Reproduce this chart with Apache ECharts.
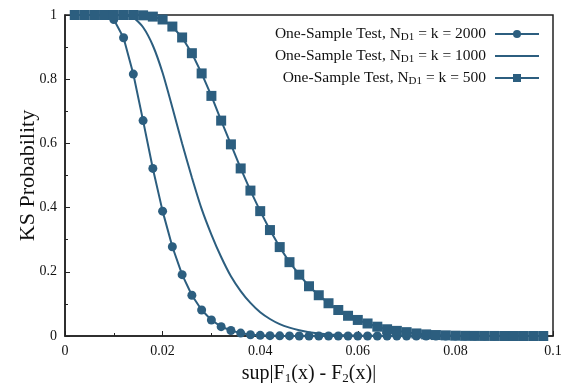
<!DOCTYPE html>
<html>
<head>
<meta charset="utf-8">
<script src="https://cdn.jsdelivr.net/npm/echarts@6/dist/echarts.min.js"></script>
<style>
  html, body { margin: 0; padding: 0; background: #fff; }
  #chart { width: 567px; height: 383px; }
</style>
</head>
<body>
<div id="chart"></div>
<script>
// x positions: sup|F1 - F2| sampled every 0.002
var dValues = [
  0.002, 0.004, 0.006, 0.008, 0.010, 0.012, 0.014, 0.016, 0.018, 0.020,
  0.022, 0.024, 0.026, 0.028, 0.030, 0.032, 0.034, 0.036, 0.038, 0.040,
  0.042, 0.044, 0.046, 0.048, 0.050, 0.052, 0.054, 0.056, 0.058, 0.060,
  0.062, 0.064, 0.066, 0.068, 0.070, 0.072, 0.074, 0.076, 0.078, 0.080,
  0.082, 0.084, 0.086, 0.088, 0.090, 0.092, 0.094, 0.096, 0.098
];

// N = 2000 (circles)
var prob2000 = [
  1.000, 1.000, 1.000, 0.999, 0.986, 0.929, 0.816, 0.671, 0.522, 0.389,
  0.278, 0.191, 0.127, 0.081, 0.050, 0.029, 0.017, 0.009, 0.004, 0.002,
  0.001, 0.0005, 0.0002, 0.0001, 0, 0, 0, 0, 0, 0,
  0, 0, 0, 0, 0, 0, 0, 0, 0, 0,
  0, 0, 0, 0, 0, 0, 0, 0, 0
];

// N = 1000 (plain line)
var prob1000 = [
  1.000, 1.000, 1.000, 1.000, 1.000, 0.999, 0.992, 0.962, 0.905, 0.820,
  0.712, 0.600, 0.494, 0.396, 0.316, 0.246, 0.186, 0.140, 0.103, 0.074,
  0.053, 0.037, 0.026, 0.018, 0.012, 0.008, 0.005, 0.0035, 0.002, 0.0013,
  0.0008, 0.0005, 0.0003, 0.0002, 0.0001, 0, 0, 0, 0, 0,
  0, 0, 0, 0, 0, 0, 0, 0, 0
];

// N = 500 (squares)
var prob500 = [
  1.000, 1.000, 1.000, 1.000, 1.000, 1.000, 1.000, 0.999, 0.995, 0.986,
  0.964, 0.930, 0.881, 0.818, 0.748, 0.671, 0.597, 0.522, 0.453, 0.389,
  0.330, 0.277, 0.230, 0.191, 0.155, 0.127, 0.102, 0.081, 0.063, 0.050,
  0.039, 0.029, 0.021, 0.016, 0.012, 0.008, 0.005, 0.003, 0.002, 0.001,
  0.0005, 0.0003, 0.0002, 0.0001, 0, 0, 0, 0, 0
];

var seriesNames = [
  'One-Sample Test, N_D1 = k = 2000',
  'One-Sample Test, N_D1 = k = 1000',
  'One-Sample Test, N_D1 = k = 500'
];

var xTicks = { min: 0, max: 0.1, interval: 0.02 };
var yTicks = { min: 0, max: 1, interval: 0.2 };

var lineColor = '#2c5e7f';
var serif = '"Liberation Serif", "DejaVu Serif", serif';

function pairs(ys) {
  return dValues.map(function (d, i) { return [d, ys[i]]; });
}

var chart = echarts.init(document.getElementById('chart'), null, { renderer: 'canvas' });

var option = {
  animation: false,
  backgroundColor: '#fff',
  grid: {
    left: 65, right: 14, top: 15, bottom: 47,
    outerBoundsMode: 'none',
    show: true, borderColor: '#222', borderWidth: 1.5
  },
  legend: {
    right: 22, top: 20,
    orient: 'vertical',
    align: 'right',
    itemWidth: 44, itemHeight: 10, itemGap: 4,
    data: [
      { name: seriesNames[0] },
      { name: seriesNames[1], itemStyle: { opacity: 0 } },
      { name: seriesNames[2] }
    ],
    formatter: function (name) {
      var parts = name.split('N_D1');
      return '{t|' + parts[0] + 'N}{s|D1}{t|' + parts[1] + '}{g|}';
    },
    textStyle: {
      color: '#111',
      rich: {
        t: { fontFamily: serif, fontSize: 15.5, color: '#111', lineHeight: 17 },
        s: { fontFamily: serif, fontSize: 11, color: '#111', lineHeight: 17, padding: [7, 0, 0, 0] },
        g: { width: 4 }
      }
    }
  },
  xAxis: {
    type: 'value',
    min: xTicks.min, max: xTicks.max, interval: xTicks.interval,
    name: '{t|sup|F}{s|1}{t|(x) - F}{s|2}{t|(x)|}',
    nameLocation: 'middle', nameGap: 26,
    nameTextStyle: {
      rich: {
        t: { fontFamily: serif, fontSize: 20, color: '#111', lineHeight: 22 },
        s: { fontFamily: serif, fontSize: 13, color: '#111', lineHeight: 22, padding: [9, 0, 0, 0] }
      }
    },
    axisLine: { show: true, lineStyle: { color: '#222', width: 1.5 } },
    axisTick: { show: true, inside: true, length: 5, lineStyle: { color: '#222' } },
    minorTick: { show: true, splitNumber: 2, length: 3, lineStyle: { color: '#222' } },
    splitLine: { show: false },
    axisLabel: {
      fontFamily: serif, fontSize: 14, color: '#111', margin: 8,
      formatter: function (v) { return String(Math.round(v * 100) / 100); }
    }
  },
  yAxis: {
    type: 'value',
    min: yTicks.min, max: yTicks.max, interval: yTicks.interval,
    name: 'KS Probability',
    nameLocation: 'middle', nameGap: 26,
    nameMoveOverlap: false,
    nameTextStyle: { fontFamily: serif, fontSize: 22, color: '#111' },
    axisLine: { show: true, lineStyle: { color: '#222', width: 1.5 } },
    axisTick: { show: true, inside: true, length: 5, lineStyle: { color: '#222' } },
    minorTick: { show: true, splitNumber: 2, length: 3, lineStyle: { color: '#222' } },
    splitLine: { show: false },
    axisLabel: {
      fontFamily: serif, fontSize: 14, color: '#111', margin: 8,
      formatter: function (v) { return String(Math.round(v * 10) / 10); }
    }
  },
  series: [
    {
      name: seriesNames[0],
      type: 'line',
      data: pairs(prob2000),
      symbol: 'circle', symbolSize: 9,
      showAllSymbol: true,
      clip: false,
      itemStyle: { color: lineColor },
      lineStyle: { color: lineColor, width: 2 }
    },
    {
      name: seriesNames[1],
      type: 'line',
      data: pairs(prob1000),
      symbol: 'none',
      smooth: 0.2,
      clip: false,
      itemStyle: { color: lineColor },
      lineStyle: { color: lineColor, width: 2 }
    },
    {
      name: seriesNames[2],
      type: 'line',
      data: pairs(prob500),
      symbol: 'rect', symbolSize: 10,
      showAllSymbol: true,
      clip: false,
      itemStyle: { color: lineColor },
      lineStyle: { color: lineColor, width: 2 }
    }
  ]
};

chart.setOption(option);
</script>
</body>
</html>
